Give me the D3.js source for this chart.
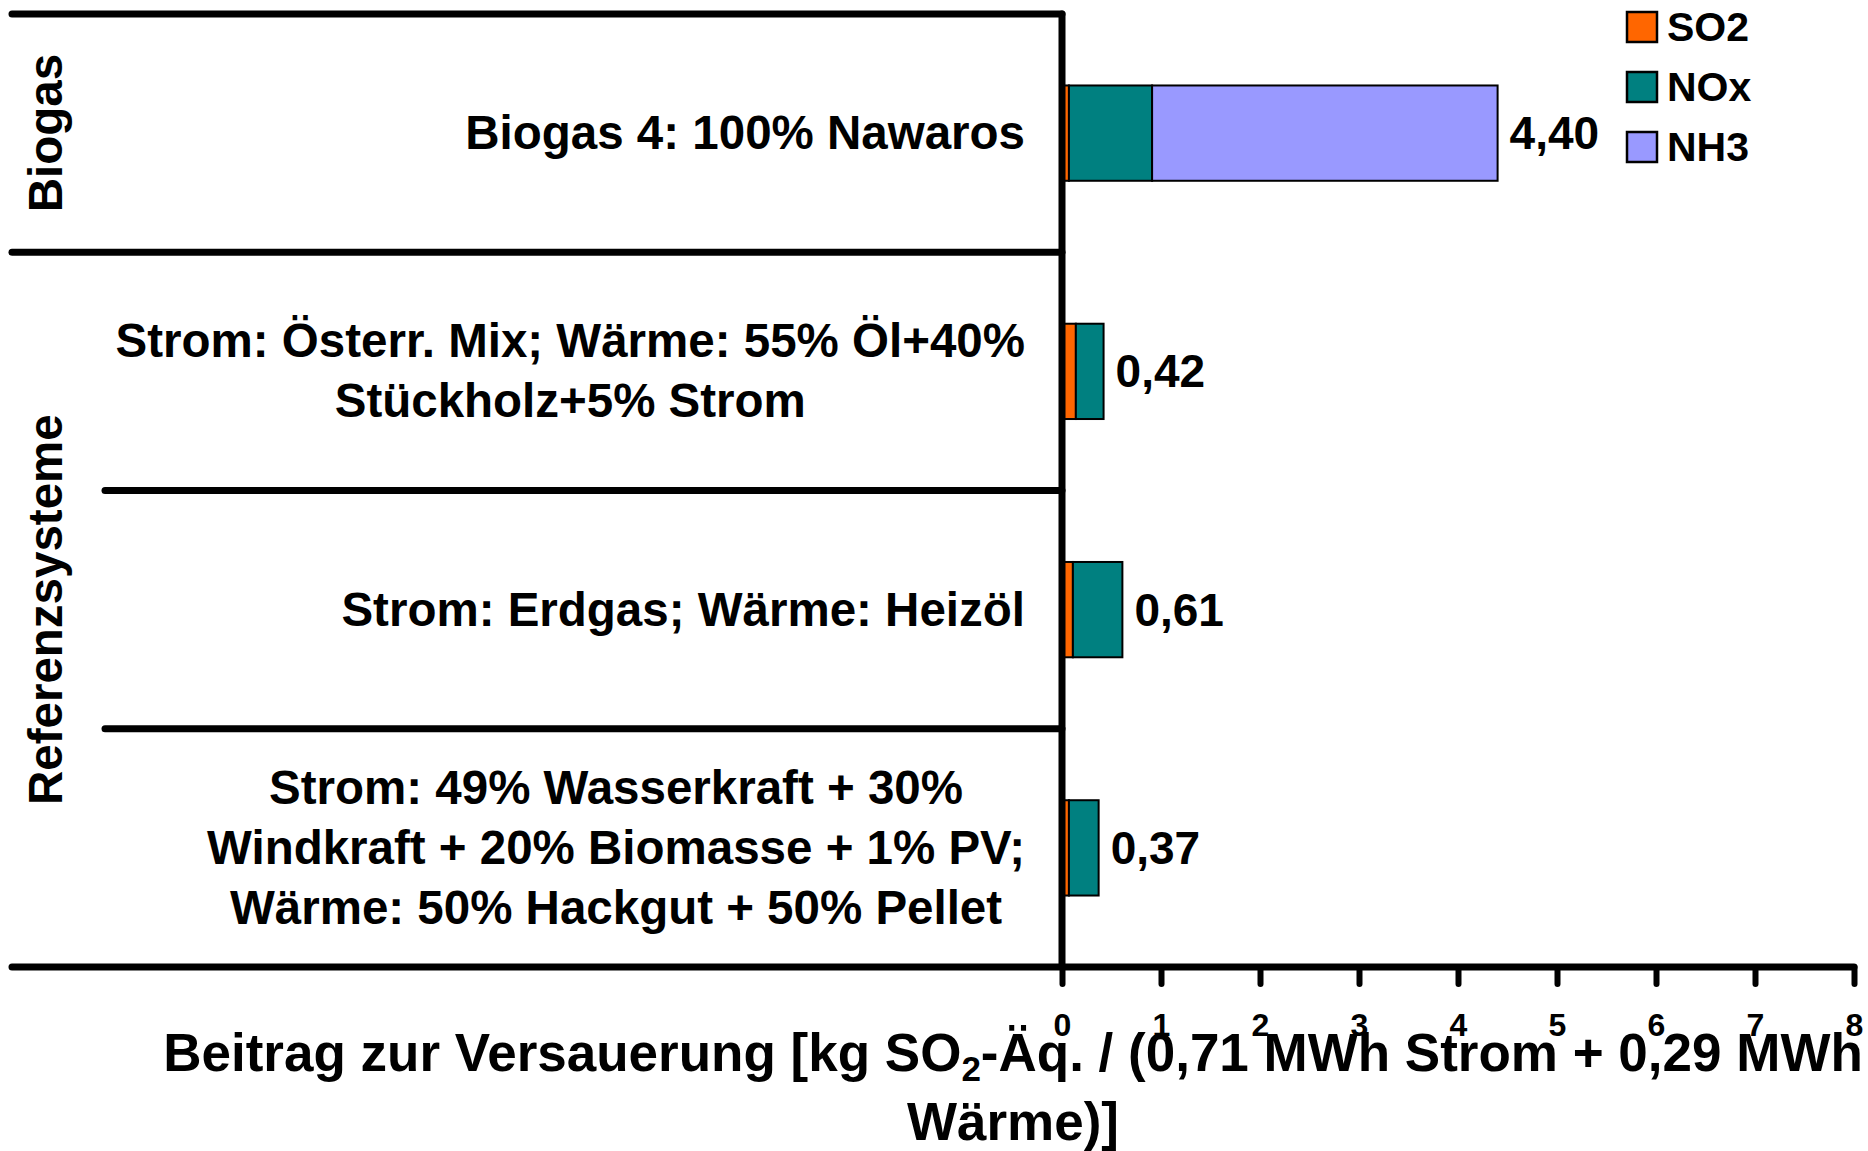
<!DOCTYPE html>
<html>
<head>
<meta charset="utf-8">
<script src="https://cdn.jsdelivr.net/npm/d3@7"></script>
<style>
  body { margin: 0; background: #fff; }
  text { font-family: "Liberation Sans", Arial, sans-serif; font-weight: bold; fill: #000; }
</style>
</head>
<body>
<div id="chart"></div>
<script>
// --- data ---
const categoryLines = [
    ["Biogas 4: 100% Nawaros"],
    ["Strom: Österr. Mix; Wärme: 55% Öl+40%", "Stückholz+5% Strom"],
    ["Strom: Erdgas; Wärme: Heizöl"],
    ["Strom: 49% Wasserkraft + 30%", "Windkraft + 20% Biomasse + 1% PV;", "Wärme: 50% Hackgut + 50% Pellet"]
];
const categories = categoryLines.map(l => l.join(" "));
const groupNames = ["Biogas", "Referenzsysteme"];
const groupSizes = [1, 3];

const seriesNames = ["SO2", "NOx", "NH3"];
const seriesColors = ["#FF6600", "#008080", "#9999FF"];
const so2 = [0.07, 0.14, 0.11, 0.07];
const nox = [0.84, 0.28, 0.50, 0.30];
const nh3 = [3.49, 0, 0, 0];

const xTicks = [0, 1, 2, 3, 4, 5, 6, 7, 8];

const W = 1868, H = 1151;
const svg = d3.select("#chart").append("svg")
    .attr("width", W)
    .attr("height", H);
svg.append("rect").attr("width", W).attr("height", H).attr("fill", "#fff");

const x = d3.scaleLinear().domain([0, 8]).range([1062, 1854]);
const y = d3.scaleBand().domain(categories).range([14, 967])
    .paddingInner(0.6).paddingOuter(0.3);
const boundary = i => y.range()[0] + i * y.step();

const rows = categories.map((c, i) => ({ cat: c, SO2: so2[i], NOx: nox[i], NH3: nh3[i] }));
const stacked = d3.stack().keys(seriesNames)(rows);
const color = d3.scaleOrdinal().domain(seriesNames).range(seriesColors);
const fmt = d3.formatLocale({ decimal: ",", thousands: ".", grouping: [3], currency: ["", "€"] }).format(".2f");

// axis title (drawn first, tick labels overlap it like in the original)
const title = svg.append("text")
    .attr("text-anchor", "middle")
    .attr("font-size", 53);
const t1 = title.append("tspan").attr("x", 1013).attr("y", 1071);
t1.append("tspan").text("Beitrag zur Versauerung [kg SO");
t1.append("tspan").attr("dy", 10).attr("font-size", 35).text("2");
t1.append("tspan").attr("dy", -10).text("-Äq. / (0,71 MWh Strom + 0,29 MWh");
title.append("tspan").attr("x", 1013).attr("y", 1140).text("Wärme)]");

// bars
svg.append("g")
    .selectAll("g")
    .data(stacked)
    .join("g")
    .attr("fill", d => color(d.key))
    .selectAll("rect")
    .data(d => d.filter(s => s[1] - s[0] > 0))
    .join("rect")
    .attr("x", d => x(d[0]))
    .attr("y", d => y(d.data.cat))
    .attr("width", d => x(d[1]) - x(d[0]))
    .attr("height", y.bandwidth())
    .attr("stroke", "#000")
    .attr("stroke-width", 2);

// value labels
svg.append("g")
    .selectAll("text")
    .data(rows)
    .join("text")
    .attr("x", d => x(d.SO2 + d.NOx + d.NH3) + 12)
    .attr("y", d => y(d.cat) + y.bandwidth() / 2 + 16)
    .attr("font-size", 46)
    .text(d => fmt(d.SO2 + d.NOx + d.NH3));

// x axis
const xAxis = svg.append("g")
    .attr("transform", `translate(0,${y.range()[1]})`)
    .call(d3.axisBottom(x).tickValues(xTicks).tickFormat(d3.format("d"))
        .tickSize(17).tickSizeOuter(0).tickPadding(29));
xAxis.attr("font-size", 32).attr("font-family", null);
xAxis.select(".domain").remove();
xAxis.selectAll(".tick line")
    .attr("stroke", "#000").attr("stroke-width", 6).attr("stroke-linecap", "round");
xAxis.selectAll(".tick text")
    .attr("font-size", 32);

// frame lines: category separators and axes
const lines = svg.append("g")
    .attr("stroke", "#000")
    .attr("stroke-width", 7)
    .attr("stroke-linecap", "round");
const groupEdges = [0];
groupSizes.forEach(s => groupEdges.push(groupEdges[groupEdges.length - 1] + s));
for (let i = 0; i <= categories.length; i++) {
    const full = groupEdges.includes(i);
    lines.append("line")
        .attr("x1", full ? 12 : 105)
        .attr("x2", i === categories.length ? x(8) : x(0))
        .attr("y1", boundary(i))
        .attr("y2", boundary(i));
}
lines.append("line")
    .attr("x1", x(0)).attr("x2", x(0))
    .attr("y1", boundary(0)).attr("y2", boundary(categories.length));

// category labels: each block right aligned, lines centred within it
categoryLines.forEach((ls, i) => {
    const cy = y(categories[i]) + y.bandwidth() / 2;
    const txt = svg.append("text")
        .attr("text-anchor", "middle")
        .attr("font-size", 47.5);
    const spans = ls.map((l, k) => txt.append("tspan")
        .attr("y", cy + 16 + (k - (ls.length - 1) / 2) * 60)
        .text(l));
    const w = d3.max(spans, s => s.node().getComputedTextLength());
    spans.forEach(s => s.attr("x", 1025 - w / 2));
});

// group labels (rotated)
groupNames.forEach((g, i) => {
    const cy = (boundary(groupEdges[i]) + boundary(groupEdges[i + 1])) / 2;
    svg.append("text")
        .attr("transform", `translate(62,${cy}) rotate(-90)`)
        .attr("text-anchor", "middle")
        .attr("font-size", 47.5)
        .text(g);
});

// legend
const legend = svg.append("g")
    .selectAll("g")
    .data(seriesNames)
    .join("g")
    .attr("transform", (d, i) => `translate(1627,${12 + i * 60})`);
legend.append("rect")
    .attr("width", 30).attr("height", 30)
    .attr("fill", d => color(d))
    .attr("stroke", "#000").attr("stroke-width", 2.5);
legend.append("text")
    .attr("x", 40).attr("y", 29)
    .attr("font-size", 41)
    .text(d => d);
</script>
</body>
</html>
